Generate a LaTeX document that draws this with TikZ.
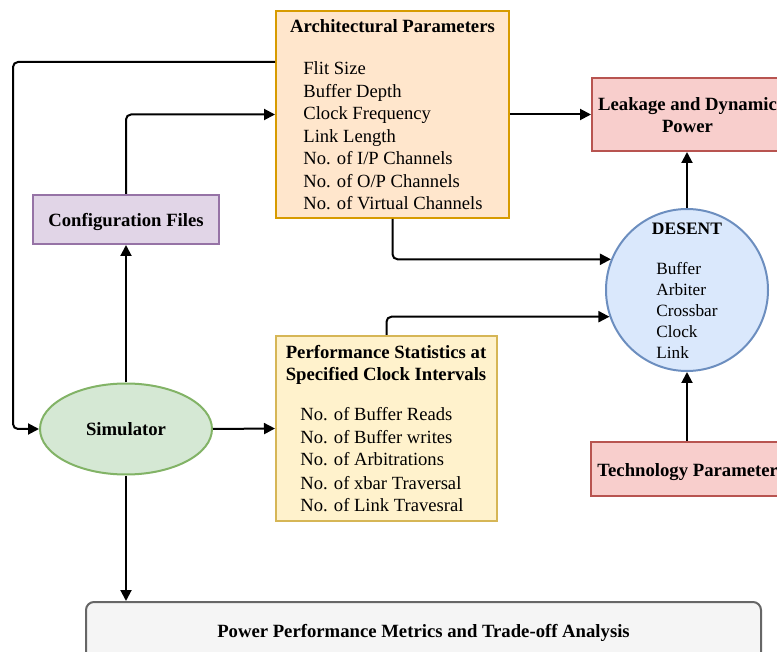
\documentclass[tikz,border=0pt]{standalone}
\usepackage{fontspec}
\setmainfont{Liberation Serif}
\usetikzlibrary{arrows.meta,calc,shapes.geometric}
\definecolor{archfill}{HTML}{FFE6CC}\definecolor{archdraw}{HTML}{D79B00}
\definecolor{cfgfill}{HTML}{E1D5E7}\definecolor{cfgdraw}{HTML}{9673A6}
\definecolor{redfill}{HTML}{F8CECC}\definecolor{reddraw}{HTML}{B85450}
\definecolor{bluefill}{HTML}{DAE8FC}\definecolor{bluedraw}{HTML}{6C8EBF}
\definecolor{perffill}{HTML}{FFF2CC}\definecolor{perfdraw}{HTML}{D6B656}
\definecolor{simfill}{HTML}{D5E8D4}\definecolor{simdraw}{HTML}{82B366}
\definecolor{ppfill}{HTML}{F5F5F5}\definecolor{ppdraw}{HTML}{666666}
\begin{document}
\begin{tikzpicture}[x=0.5pt,y=-0.5pt,
  box/.style={draw, line width=1pt, inner sep=0pt, rectangle},
  conn/.style={line width=1pt, rounded corners=2.5pt, -{Triangle[length=5.5pt,width=5.5pt]}},
  txt/.style={inner sep=0pt, anchor=base, font=\fontsize{9.3}{11.25}\selectfont},
  btxt/.style={inner sep=0pt, anchor=base, font=\fontsize{9.35}{11.25}\selectfont\bfseries},
  stxt/.style={inner sep=0pt, anchor=base west, font=\fontsize{8.6}{10.6}\selectfont},
  sbtxt/.style={inner sep=0pt, anchor=base, font=\fontsize{8.75}{10.6}\selectfont\bfseries}]
\useasboundingbox (0,0) rectangle (777,652);

% boxes
\node[box, fill=archfill, draw=archdraw, minimum width=116.5pt, minimum height=103.5pt] (arch) at (392.5,114.5) {};
\node[box, fill=cfgfill, draw=cfgdraw, minimum width=93pt, minimum height=24.5pt] (cfg) at (126,219.5) {};
\node[box, fill=redfill, draw=reddraw, minimum width=95pt, minimum height=36.5pt] (leak) at (687,114.5) {};
\node[circle, draw=bluedraw, fill=bluefill, line width=1pt, minimum size=81pt, inner sep=0pt] (desent) at (687,290) {};
\node[box, fill=redfill, draw=reddraw, minimum width=96pt, minimum height=27pt] (tech) at (687,469) {};
\node[box, fill=perffill, draw=perfdraw, minimum width=110.5pt, minimum height=92.5pt] (perf) at (386.5,428.5) {};
\node[ellipse, draw=simdraw, fill=simfill, line width=1pt, minimum width=86pt, minimum height=45.5pt, inner sep=0pt] (sim) at (126,429) {};
\node[box, rounded corners=4pt, fill=ppfill, draw=ppdraw, minimum width=337.5pt, minimum height=30pt] (pp) at (423.5,632) {};

% texts
\node[btxt] (archT) at (392.5,33) {Architectural Parameters};
\foreach \y/\t [count=\i] in {75/{Flit Size}, 97.5/{Buffer Depth}, 120/{Clock Frequency}, 142.5/{Link Length}, 165/{No. of I/P Channels}, 187.5/{No. of O/P Channels}, 210/{No. of Virtual Channels}}
  \node[txt, anchor=base west] (ap\i) at (303,\y) {\t};
\node[btxt] (cfgT) at (126,227) {Configuration Files};
\node[btxt] (leakT1) at (687.5,111) {Leakage and Dynamic};
\node[btxt] (leakT2) at (687.5,133) {Power};
\node[sbtxt] (desT) at (687,234.5) {DESENT};
\foreach \y/\t [count=\i] in {274.5/Buffer, 295.5/Arbiter, 316.5/Crossbar, 337.5/Clock, 359/Link}
  \node[stxt] (ds\i) at (656,\y) {\t};
\node[btxt, anchor=base west] (techT) at (597,476) {Technology Parameter};
\node[btxt] (perfT1) at (386,358) {Performance Statistics at};
\node[btxt] (perfT2) at (386,380) {Specified Clock Intervals};
\foreach \y/\t [count=\i] in {421/{No. of Buffer Reads}, 444/{No. of Buffer writes}, 466/{No. of Arbitrations}, 489/{No. of xbar Traversal}, 511/{No. of Link Travesral}}
  \node[txt, anchor=base west] (ps\i) at (300,\y) {\t};
\node[btxt] (simT) at (126,436) {Simulator};
\node[btxt] (ppT) at (423.5,637) {Power Performance Metrics and Trade-off Analysis};

% connectors
\coordinate (lbend) at (13,429);
\draw[conn] ([yshift=-26pt]arch.north west) -| (lbend) -- (sim.west);
\draw[conn] (cfg.north) |- (arch.west);
\draw[conn] (sim.north) -- (cfg.south);
\draw[conn] (sim.east) -- (perf.west);
\draw[conn] (sim.south) -- (sim.south |- pp.north);
\draw[conn] (arch.east) -- (leak.west);
\draw[conn] (arch.south) |- (desent.158);
\draw[conn] (perf.north) |- (desent.199);
\draw[conn] (desent.north) -- (leak.south);
\draw[conn] (tech.north) -- (desent.south);
\end{tikzpicture}
\end{document}
